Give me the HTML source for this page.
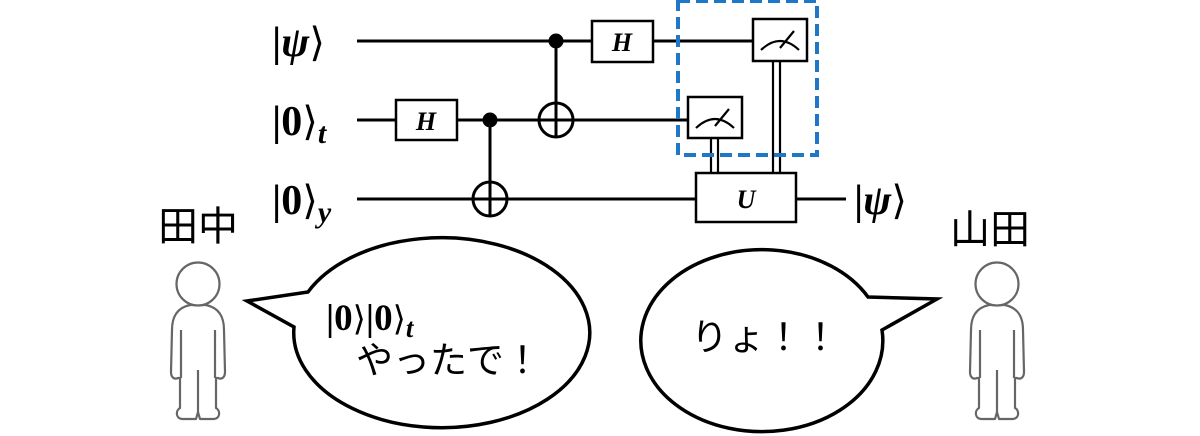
<!DOCTYPE html>
<html><head><meta charset="utf-8"><style>
html,body{margin:0;padding:0;background:#fff;}
svg{display:block;}
.m{font-family:"Liberation Serif",serif;font-weight:bold;}
.a{font-family:"DejaVu Serif",serif;font-weight:normal;font-style:normal;}
.j{font-family:"Liberation Sans","Noto Sans CJK JP",sans-serif;}
</style></head><body>
<svg width="1200" height="436" viewBox="0 0 1200 436" xmlns="http://www.w3.org/2000/svg">
<defs>
<g id="person" fill="#fff" stroke="#666" stroke-width="2.2" stroke-linejoin="round">
  <path d="M-8,305 C-22,308 -26,318 -26,330 L-27,372 C-27,377 -24,380 -20,378 L-18,378 L-18,408 C-22,410 -23,418 -16,419 L-2,419 L0,412 L2,419 L16,419 C23,418 22,410 18,408 L18,378 L20,378 C24,380 27,377 27,372 L26,330 C26,318 22,308 8,305 Z"/>
  <path d="M-17,330 L-17,378 M17,330 L17,378 M0,370 L0,412" fill="none"/>
  <circle cx="0" cy="284" r="21.5"/>
</g>
</defs>
<g stroke="#000" stroke-width="3" fill="none">
  <line x1="357" y1="41" x2="753" y2="41"/>
  <line x1="357" y1="120" x2="688" y2="120"/>
  <line x1="357" y1="199" x2="696" y2="199"/>
  <line x1="796" y1="199" x2="846" y2="199"/>
  <line x1="556" y1="41" x2="556" y2="136"/>
  <line x1="490" y1="120" x2="490" y2="216"/>
  <circle cx="556" cy="120" r="17"/>
  <line x1="539" y1="120" x2="573" y2="120"/>
  <circle cx="490" cy="199" r="17"/>
  <line x1="473" y1="199" x2="507" y2="199"/>
</g>
<circle cx="556" cy="41" r="7.5"/>
<circle cx="490" cy="120" r="7.5"/>
<g stroke="#000" stroke-width="2.5" fill="#fff">
  <rect x="592" y="21" width="61" height="41"/>
  <rect x="396" y="100" width="61" height="40"/>
  <rect x="753" y="19" width="54" height="42"/>
  <rect x="688" y="97" width="54" height="41"/>
  <rect x="696" y="173" width="100" height="49"/>
</g>
<g fill="none" stroke="#000" stroke-width="2.2">
  <path d="M761,50 Q780,32 799,50"/><line x1="780" y1="48" x2="794" y2="31"/>
  <path d="M696,128 Q715,110 734,128"/><line x1="715" y1="126" x2="729" y2="109"/>
  <line x1="711" y1="138" x2="711" y2="173"/><line x1="718" y1="138" x2="718" y2="173"/>
  <line x1="773" y1="61" x2="773" y2="173"/><line x1="780" y1="61" x2="780" y2="173"/>
</g>
<g class="m" font-style="italic" font-size="26" text-anchor="middle">
  <text x="622" y="51">H</text>
  <text x="426" y="130">H</text>
  <text x="746" y="208">U</text>
</g>
<rect x="678" y="1" width="139" height="154" fill="none" stroke="#1f77c8" stroke-width="4" stroke-dasharray="12,6"/>
<g class="m" font-size="42">
  <text x="272" y="56">|<tspan font-style="italic">ψ</tspan><tspan class="a" font-size="40">⟩</tspan></text>
  <text x="272" y="135">|0<tspan class="a" font-size="40">⟩</tspan><tspan font-style="italic" font-size="30" dy="8">t</tspan></text>
  <text x="272" y="214">|0<tspan class="a" font-size="40">⟩</tspan><tspan font-style="italic" font-size="30" dy="8">y</tspan></text>
  <text x="854" y="214">|<tspan font-style="italic">ψ</tspan><tspan class="a" font-size="40">⟩</tspan></text>
</g>
<text class="j" x="158" y="240" font-size="40">田中</text>
<text class="j" x="950" y="243" font-size="40">山田</text>
<use href="#person" x="198" y="0"/>
<use href="#person" x="997" y="0"/>
<path d="M308,292 A148,95 0 1 1 294,327 L247,301 Z" fill="#fff" stroke="#000" stroke-width="3.5" stroke-linejoin="miter"/>
<path d="M868,297 A121,91 0 1 0 882,330 L937,299 Z" fill="#fff" stroke="#000" stroke-width="3.5" stroke-linejoin="miter"/>
<text class="m" x="326" y="330" font-size="37">|0<tspan class="a" font-size="34">⟩</tspan>|0<tspan class="a" font-size="34">⟩</tspan><tspan font-style="italic" font-size="27" dy="7">t</tspan></text>
<text class="j" x="356" y="373" font-size="37">やったで！</text>
<text class="j" x="691" y="350" font-size="37">りょ！！</text>
</svg>
</body></html>
